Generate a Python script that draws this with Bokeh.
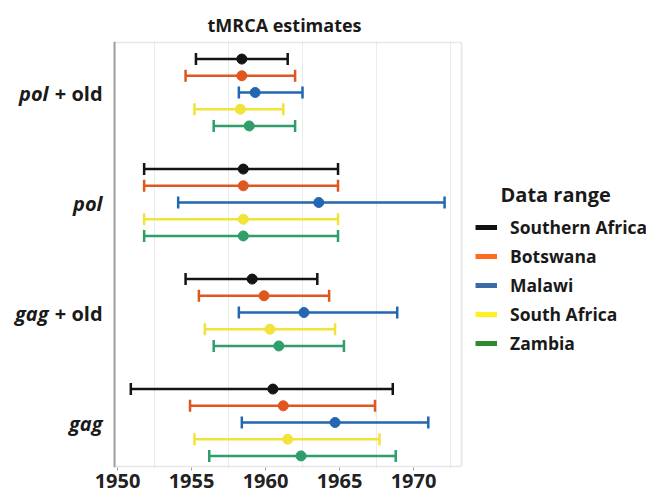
import numpy as np
from bokeh.plotting import figure
from bokeh.models import (ColumnDataSource, Whisker, TeeHead, Label, Legend,
                          LegendItem, FixedTicker, Grid, BoxAnnotation, Span)
from bokeh.core.properties import value
from bokeh.embed import file_html
from bokeh.resources import INLINE

# ---------------- data ----------------
groups = ["gag", "gag + old", "pol", "pol + old"]          # bottom -> top
group_italic = ["gag", "gag", "pol", "pol"]
group_suffix = ["", "+ old", "", "+ old"]
series = ["Southern Africa", "Botswana", "Malawi", "South Africa", "Zambia"]

# values per series, in the order of `groups`
est = [
    [1960.5, 1959.1, 1958.5, 1958.4],   # Southern Africa
    [1961.2, 1959.9, 1958.5, 1958.4],   # Botswana
    [1964.7, 1962.6, 1963.6, 1959.3],   # Malawi
    [1961.5, 1960.3, 1958.5, 1958.3],   # South Africa
    [1962.4, 1960.9, 1958.5, 1958.9],   # Zambia
]
low = [
    [1950.9, 1954.6, 1951.8, 1955.3],
    [1954.9, 1955.5, 1951.8, 1954.6],
    [1958.4, 1958.2, 1954.1, 1958.2],
    [1955.2, 1955.9, 1951.8, 1955.2],
    [1956.2, 1956.5, 1951.8, 1956.5],
]
high = [
    [1968.6, 1963.5, 1964.9, 1961.5],
    [1967.4, 1964.3, 1964.9, 1962.0],
    [1971.0, 1968.9, 1972.1, 1962.5],
    [1967.7, 1964.7, 1964.9, 1961.2],
    [1968.8, 1965.3, 1964.9, 1962.0],
]
x_ticks = [1950, 1955, 1960, 1965, 1970]
grid_lines = [1952.5, 1957.5, 1962.5, 1967.5, 1972.5]

plot_colors = ["#141414", "#E0561F", "#2366B1", "#F1E33A", "#2F9E6B"]
legend_colors = ["#111111", "#FF6B1C", "#3A6BA8", "#FFF21C", "#2E8A2E"]

FONT = "Open Sans"
TXT = "#1a1a1a"

# panel (data window) limits and the full canvas range
PANEL_X = (1949.8, 1973.24)
PX_PER_YEAR = 14.8
FRAME_W = 646
FRAME_H = 426
X_START = 1950 - 117 / PX_PER_YEAR
X_END = X_START + FRAME_W / PX_PER_YEAR
Y_RANGE = (0.5909, 4.4636)
PANEL_Y = (Y_RANGE[0] + 0.008, Y_RANGE[1] - 0.008)

p = figure(frame_width=FRAME_W, frame_height=FRAME_H, output_backend="svg",
           toolbar_location=None, x_range=(X_START, X_END), y_range=Y_RANGE,
           min_border_left=0, min_border_right=0, min_border_top=41,
           min_border_bottom=0, title="tMRCA estimates")
p.outline_line_color = None
p.yaxis.visible = False
p.xgrid.visible = False
p.ygrid.visible = False

p.title.align = "left"
p.title.offset = 207
p.title.standoff = 10
p.title.text_font = FONT
p.title.text_font_size = "18px"
p.title.text_font_style = "bold"
p.title.text_color = TXT

p.xaxis.ticker = FixedTicker(ticks=x_ticks)
p.xaxis.major_label_text_font = FONT
p.xaxis.major_label_text_font_size = "20px"
p.xaxis.major_label_text_font_style = "bold"
p.xaxis.major_label_text_color = "#222222"
p.xaxis.axis_line_color = None
p.xaxis.major_tick_line_color = "#a0a0a0"
p.xaxis.major_tick_in = 0
p.xaxis.major_tick_out = 3
p.xaxis.minor_tick_line_color = None
p.xaxis.major_label_standoff = 3

# grid inside the panel
p.add_layout(Grid(dimension=0, ticker=FixedTicker(ticks=grid_lines),
                  grid_line_color="#ebebeb", grid_line_width=1))

# panel border
p.add_layout(BoxAnnotation(left=PANEL_X[0], right=PANEL_X[1],
                           bottom=PANEL_Y[0], top=PANEL_Y[1],
                           fill_alpha=0, line_color="#b4b4b4", line_width=1.8))
p.add_layout(Span(location=PANEL_X[0], dimension="height",
                  line_color="#a0a0a0", line_width=2))

# error bars
n = len(series)
step = 0.152
for i, name in enumerate(series):
    ys = [g + 1 + (n // 2 - i) * step for g in range(len(groups))]
    src = ColumnDataSource(dict(y=ys, est=est[i], low=low[i], high=high[i]))
    head = dict(size=12, line_color=plot_colors[i], line_width=2.5)
    w = Whisker(source=src, base="y", lower="low", upper="high",
                dimension="width", line_color=plot_colors[i], line_width=2.5,
                upper_head=TeeHead(**head), lower_head=TeeHead(**head))
    p.add_layout(w)
    p.scatter(x="est", y="y", source=src, size=10, color=plot_colors[i])

# group labels (italic gene name + plain suffix)
gy = [g + 1 for g in range(len(groups))]
ax0 = [PANEL_X[0]] * len(groups)
lab_src = ColumnDataSource(dict(
    x=ax0, y=gy, ital=group_italic, suf=group_suffix,
    ioff=[-66 if s else -12 for s in group_suffix]))
p.text(x="x", y="y", text="suf", source=lab_src, x_offset=-12, y_offset=1,
       text_align="right", text_baseline="middle", text_font=value(FONT),
       text_font_size="20px", text_font_style="bold", text_color=TXT)
p.text(x="x", y="y", text="ital", source=lab_src, x_offset="ioff", y_offset=1,
       text_align="right", text_baseline="middle", text_font=value(FONT),
       text_font_size="20px", text_font_style="bold italic", text_color=TXT)

# legend
items = []
for i, name in enumerate(series):
    r = p.line(x=[np.nan, np.nan], y=[np.nan, np.nan],
               line_color=legend_colors[i], line_width=5)
    items.append(LegendItem(label=name, renderers=[r]))
legend = Legend(items=items, location=(475, 112),
                border_line_color=None, background_fill_alpha=0,
                margin=0, padding=0, glyph_width=22, glyph_height=20,
                label_height=20, spacing=5, label_standoff=13,
                label_text_font=FONT, label_text_font_size="17.5px",
                label_text_font_style="bold", label_text_color=TXT)
p.add_layout(legend, "center")
p.add_layout(Label(x=500, y=273, x_units="screen", y_units="screen",
                   text="Data range", text_baseline="middle",
                   text_font=FONT, text_font_size="20px",
                   text_font_style="bold", text_color=TXT))

open("out.html", "w").write(file_html(p, INLINE))
